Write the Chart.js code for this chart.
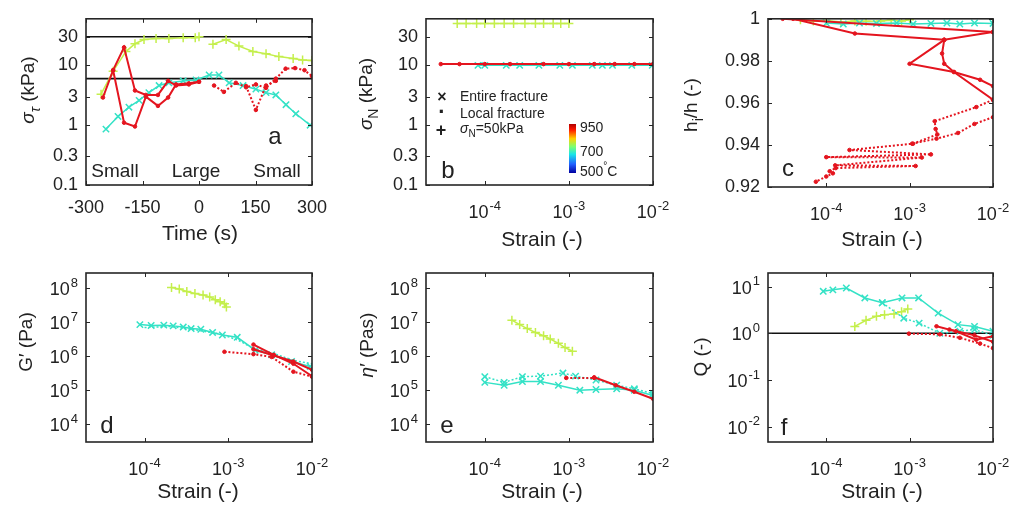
<!DOCTYPE html>
<html>
<head>
<meta charset="utf-8">
<title>Shear fracture rheology</title>
<script src="https://cdn.jsdelivr.net/npm/chart.js@4"></script>
<style>
  body { margin: 0; background: #fff; }
  #fig { position: relative; width: 1018px; height: 513px; }
  canvas { position: absolute; }
</style>
</head>
<body>
<div id="fig">
  <canvas id="pa"></canvas>
  <canvas id="pb"></canvas>
  <canvas id="pc"></canvas>
  <canvas id="pd"></canvas>
  <canvas id="pe"></canvas>
  <canvas id="pf"></canvas>
</div>
<script>
// ---- data ([x, y] pairs) ----
// a: shear stress vs time
const aYellow1 = [[-260,3.3],[-228,8],[-194,17],[-170,23],[-146,27],[-114,28],[-80,28],[-42,29],[-10,29],[0,30]];
const aYellow2 = [[37,22.6],[72,27],[106,21],[143,17],[178,15.6],[212,14],[250,13],[275,12.3],[300,12]];
const aCyan = [[-247,0.86],[-215,1.4],[-186,2.0],[-159,2.6],[-133,3.5],[-106,4.6],[-80,5.1],[-42,5.5],[-8,5.7],[27,6.9],[53,6.9],[80,5.1],[117,4.6],[151,4.0],[178,3.5],[204,3.2],[231,2.2],[257,1.55],[295,1.0]];
const aRed1 = [[-255,2.9],[-228,8.3],[-199,20],[-170,3.8],[-141,3.2],[-109,3.2],[-82,5.5],[-61,4.6],[-27,4.8],[0,5.3]];
const aRed2 = [[-228,8.3],[-199,1.1],[-170,0.95],[-141,3.0],[-109,2.1],[-82,2.9],[-61,4.8],[-27,5.0],[0,5.3]];
const aRedDot1 = [[40,4.6],[66,3.6],[98,5.1],[125,4.3],[151,4.8],[178,4.2],[204,6.0],[230,8.8],[255,9.0],[280,8.3],[300,6.6]];
const aRedDot2 = [[125,4.5],[151,1.8],[178,4.6],[204,5.5]];
const aRefHigh = [[-300,30],[300,30]];
const aRefLow = [[-300,6],[300,6]];

// b: normal stress vs strain
const bYellow = [[4.7e-5,50],[6e-5,50],[8e-5,50],[1e-4,50],[1.3e-4,50],[1.7e-4,50],[2.2e-4,50],[3e-4,50],[4e-4,50],[5e-4,50],[6.5e-4,50],[8e-4,50],[1e-3,50]];
const bCyan = [[8.3e-5,10],[1e-4,10],[1.8e-4,10],[2.6e-4,10],[4.4e-4,10],[7.8e-4,10],[1.1e-3,10],[1.9e-3,10],[2.5e-3,10],[3.3e-3,10],[5.6e-3,10],[9.8e-3,10]];
const bRed = [[3e-5,10.5],[5e-5,10.5],[1e-4,10.5],[2e-4,10.5],[5e-4,10.5],[1e-3,10.5],[2e-3,10.5],[3.5e-3,10.5],[6e-3,10.5],[1e-2,10.5]];

// c: height ratio vs strain
const cYellow = [[4.9e-5,0.9995],[7e-5,0.999],[1e-4,0.9992],[1.5e-4,0.9985],[2.2e-4,0.999],[3e-4,0.9988],[4.5e-4,0.999],[6e-4,0.9993],[8e-4,0.999],[1e-3,0.9995]];
const cCyan = [[1e-4,0.998],[1.6e-4,0.9975],[2.5e-4,0.998],[4e-4,0.9978],[7e-4,0.998],[1.1e-3,0.9975],[1.8e-3,0.9978],[2.8e-3,0.998],[4e-3,0.9975],[6e-3,0.998],[1e-2,0.9978]];
const cRed1 = [[3e-5,1.0],[1e-2,0.9937]];
const cRed2 = [[4e-5,1.0],[2.2e-4,0.993],[2.6e-3,0.990],[1e-2,0.9937]];
const cRed3 = [[2.6e-3,0.990],[1e-3,0.9786],[3.4e-3,0.9747],[7e-3,0.971],[1e-2,0.968]];
const cRed4 = [[2.6e-3,0.990],[2.45e-3,0.9835],[2.6e-3,0.9786],[3.4e-3,0.9747],[1e-2,0.9615]];
const cRedDot1 = [[1e-2,0.9615],[6.3e-3,0.958],[2.0e-3,0.9513],[2.05e-3,0.9476],[2.15e-3,0.945],[1.1e-3,0.9406],[1.9e-4,0.9376],[1.8e-3,0.9355],[1e-4,0.9342],[1.4e-3,0.934],[1.28e-4,0.9303],[1.18e-3,0.93],[1.3e-4,0.929],[1.1e-4,0.9275],[1.2e-4,0.9265],[1e-4,0.925],[7.5e-5,0.9225]];
const cRedDot2 = [[1e-2,0.9532],[6e-3,0.95],[3.8e-3,0.9457],[2.1e-3,0.943],[1.07e-3,0.9406]];

// d: storage modulus G'
const dYellow = [[2.1e-4,1.05e8],[2.6e-4,9.5e7],[3.2e-4,8e7],[4e-4,7e7],[5e-4,6.3e7],[6e-4,5.5e7],[7e-4,4.6e7],[8e-4,4e7],[9e-4,3.5e7],[9.5e-4,2.8e7]];
const dCyan = [[8.8e-5,8.5e6],[1.2e-4,8e6],[1.7e-4,8.2e6],[2.2e-4,7.8e6],[2.9e-4,7.2e6],[3.6e-4,6.5e6],[4.7e-4,6.2e6],[6.5e-4,5e6],[8.5e-4,4.2e6],[1.28e-3,3.6e6],[2.1e-3,1.5e6],[3.3e-3,1.1e6],[5.7e-3,7e5],[9.5e-3,5e5]];
const dCyanDot = [[1e-4,7e6],[2e-4,7.5e6],[4e-4,6e6],[8e-4,4.5e6],[1.3e-3,3e6],[2e-3,1.7e6],[3.5e-3,1.2e6],[6e-3,7.5e5],[1e-2,6e5]];
const dRed1 = [[2e-3,2.2e6],[3.5e-3,1.1e6],[6e-3,6e5],[1e-2,2.6e5]];
const dRed2 = [[2e-3,1.6e6],[3.5e-3,1.05e6],[6e-3,7e5],[1e-2,4e5]];
const dRedDot = [[9e-4,1.35e6],[2e-3,1.15e6],[3.3e-3,9.5e5],[6e-3,3.5e5],[1e-2,2.5e5]];

// e: dynamic viscosity eta'
const eYellow = [[2.1e-4,1.15e7],[2.6e-4,8.5e6],[3.2e-4,6.5e6],[4e-4,5e6],[5e-4,4e6],[6e-4,3.2e6],[7.5e-4,2.4e6],[9e-4,1.8e6],[1.1e-3,1.4e6]];
const eCyan = [[1e-4,1.7e5],[1.7e-4,1.4e5],[2.8e-4,1.8e5],[4.6e-4,1.8e5],[7.5e-4,1.4e5],[1.35e-3,1e5],[2.1e-3,1.05e5],[3.7e-3,1.1e5],[6e-3,1e5],[1e-2,7e4]];
const eCyanDot = [[1e-4,2.5e5],[1.7e-4,1.7e5],[2.8e-4,2.5e5],[4.6e-4,2.6e5],[8.5e-4,3.2e5],[1.2e-3,2.6e5],[2.1e-3,2e5],[3.7e-3,1.4e5],[6e-3,1.1e5],[1e-2,8e4]];
const eRed = [[2e-3,2.4e5],[3.6e-3,1.4e5],[6e-3,9e4],[1e-2,5.6e4]];
const eRedDot = [[9.3e-4,2.3e5],[2e-3,2.3e5]];

// f: quality factor Q
const fCyan = [[9.2e-5,7.9],[1.2e-4,8.5],[1.74e-4,9.3],[2.9e-4,5.7],[4.7e-4,4.5],[8.1e-4,5.7],[1.28e-3,5.7],[2.2e-3,2.7],[3.8e-3,1.53],[6e-3,1.4],[1e-2,1.1]];
const fCyanDot = [[4.7e-4,4.5],[8.5e-4,2.1],[1.3e-3,1.65],[2.3e-3,1.0],[4e-3,1.1],[6e-3,1.2],[1e-2,0.9]];
const fYellow = [[2.2e-4,1.4],[3e-4,1.9],[4e-4,2.3],[5e-4,2.5],[6.5e-4,2.6],[8e-4,2.9],[9.5e-4,3.3]];
const fRed1 = [[2.1e-3,1.41],[3.6e-3,1.1],[6.3e-3,0.73],[1e-2,0.86]];
const fRed2 = [[3e-3,1.2],[6e-3,0.9],[1e-2,0.66]];
const fRedDot = [[9.8e-4,0.98],[2.3e-3,0.95],[4e-3,0.8],[7e-3,0.6],[1e-2,0.48]];
const fRef = [[2e-5,1],[1e-2,1]];

// ticks
const timeTicks = [-300, -150, 0, 150, 300];
const stressTicks = [0.1, 0.3, 1, 3, 10, 30];
const strainTicks = [1e-4, 1e-3, 1e-2];
const heightTicks = [0.92, 0.94, 0.96, 0.98, 1];
const modTicks = [1e4, 1e5, 1e6, 1e7, 1e8];
const qTicks = [1e-2, 1e-1, 1, 10];

// ---- styling ----
const FONT = '"Liberation Sans", Arial, sans-serif';
const RED = '#e4151f', CYAN = '#34e2c6', YEL = '#c4ef4c', BLK = '#111111', INK = '#222222';

function ser(pts, color, o) {
  o = o || {};
  return {
    data: pts.map(p => ({x: p[0], y: p[1]})),
    borderColor: color,
    backgroundColor: color,
    borderWidth: o.w || 1.5,
    borderDash: o.dash || [],
    pointStyle: o.mk || 'circle',
    pointRadius: o.r || 0,
    pointBorderColor: color,
    pointBackgroundColor: color,
    pointBorderWidth: o.pw || 1.5,
    tension: 0,
    fill: false
  };
}
const cross = () => ({mk: 'crossRot', r: 4.5});
const plus = {mk: 'cross', r: 4.5};
const dot = {mk: 'circle', r: 1.8, pw: 1, w: 2};
const dotted = {mk: 'circle', r: 1.8, pw: 1, w: 2, dash: [2, 2]};

// pow: labels like 10^-3 are drawn by the deco plugin instead of the tick callback
function axis(type, min, max, ticks, fmt, pad, pow) {
  return {
    type: type, min: min, max: max, pow: !!pow,
    afterBuildTicks: s => { s.ticks = ticks.map(v => ({value: v})); },
    grid: {display: false, drawTicks: false},
    border: {display: false},
    ticks: {display: !pow, callback: fmt, font: {family: FONT, size: 18}, color: INK, padding: pad, autoSkip: false, maxRotation: 0}
  };
}

// rich text with sub/superscripts
function rich(ctx, it, ox, oy) {
  const parts = typeof it.t === 'string' ? [{t: it.t}] : it.t;
  const size = it.size || 18;
  const fontOf = p => (p.i ? 'italic ' : '') + (p.b ? 'bold ' : '') + ((p.sub || p.sup) ? Math.round(size * 0.72) : size) + 'px ' + FONT;
  let w = 0;
  parts.forEach(p => { ctx.font = fontOf(p); p.w = ctx.measureText(p.t).width; w += p.w; });
  ctx.save();
  ctx.translate(it.x - ox, it.y - oy);
  if (it.rot) ctx.rotate(-Math.PI / 2);
  ctx.fillStyle = it.c || INK;
  ctx.textBaseline = 'middle';
  ctx.textAlign = 'left';
  let cx = it.left ? 0 : -w / 2;
  parts.forEach(p => {
    ctx.font = fontOf(p);
    const dy = p.sub ? size * 0.38 : (p.sup ? -size * 0.38 : 0);
    ctx.fillText(p.t, cx, dy);
    cx += p.w;
  });
  ctx.restore();
}

// "10" with a raised exponent
function powLabel(ctx, v, x, y, right) {
  const e = String(Math.round(Math.log10(v)));
  ctx.font = '18px ' + FONT;
  const w1 = ctx.measureText('10').width;
  ctx.font = '13px ' + FONT;
  const w2 = ctx.measureText(e).width + 1;
  const x0 = right ? x - w1 - w2 : x - (w1 + w2) / 2;
  ctx.fillStyle = INK;
  ctx.textBaseline = 'middle';
  ctx.textAlign = 'left';
  ctx.font = '18px ' + FONT;
  ctx.fillText('10', x0, y);
  ctx.font = '13px ' + FONT;
  ctx.fillText(e, x0 + w1 + 1, y - 7);
}

const deco = {
  id: 'deco',
  afterDatasetsDraw(chart, args, o) {
    const {ctx, chartArea: A, scales: {x, y}} = chart;
    ctx.save();
    ctx.strokeStyle = '#262626';
    ctx.lineWidth = 1;
    ctx.beginPath();
    x.ticks.forEach(t => {
      const p = Math.round(x.getPixelForValue(t.value)) + 0.5;
      ctx.moveTo(p, A.bottom); ctx.lineTo(p, A.bottom - 4);
      ctx.moveTo(p, A.top); ctx.lineTo(p, A.top + 4);
    });
    y.ticks.forEach(t => {
      const p = Math.round(y.getPixelForValue(t.value)) + 0.5;
      ctx.moveTo(A.left, p); ctx.lineTo(A.left + 4, p);
      ctx.moveTo(A.right, p); ctx.lineTo(A.right - 4, p);
    });
    ctx.stroke();
    ctx.lineWidth = 1.6;
    ctx.strokeRect(A.left, A.top, A.right - A.left, A.bottom - A.top);
    ctx.restore();
  },
  afterDraw(chart, args, o) {
    const {ctx, chartArea: A, scales: {x, y}} = chart;
    ctx.save();
    if (x.options.pow) x.ticks.forEach(t => powLabel(ctx, t.value, x.getPixelForValue(t.value), A.bottom + 28.5, false));
    if (y.options.pow) y.ticks.forEach(t => powLabel(ctx, t.value, A.left - 8, y.getPixelForValue(t.value) + 2, true));
    if (o.cbar) {
      const b = o.cbar;
      const g = ctx.createLinearGradient(0, b.y - o.oy, 0, b.y + b.h - o.oy);
      g.addColorStop(0, '#b00000'); g.addColorStop(0.12, '#ff1a00'); g.addColorStop(0.3, '#ffd200');
      g.addColorStop(0.46, '#7dff70'); g.addColorStop(0.62, '#18e4e8'); g.addColorStop(0.82, '#2060ff'); g.addColorStop(1, '#0000a0');
      ctx.fillStyle = g;
      ctx.fillRect(b.x - o.ox, b.y - o.oy, b.w, b.h);
    }
    ctx.restore();
    (o.items || []).forEach(it => rich(ctx, it, o.ox, o.oy));
  }
};

function panel(id, cell, area, xs, ys, datasets, items, extra) {
  const [cl, ct, cw, ch] = cell;
  const cv = document.getElementById(id);
  cv.width = cw; cv.height = ch;
  cv.style.left = cl + 'px'; cv.style.top = ct + 'px';
  xs.afterFit = s => { s.height = ct + ch - area[3]; };
  ys.afterFit = s => { s.width = area[0] - cl; };
  return new Chart(cv, {
    type: 'line',
    data: {datasets: datasets},
    options: {
      responsive: false, animation: false, devicePixelRatio: 1,
      layout: {padding: {left: 0, bottom: 0, top: area[1] - ct, right: cl + cw - area[2]}},
      scales: {x: xs, y: ys},
      plugins: {legend: {display: false}, tooltip: {enabled: false},
        deco: Object.assign({ox: cl, oy: ct, items: items}, extra || {})}
    },
    plugins: [deco]
  });
}

const strainAxis = () => axis('logarithmic', 2e-5, 1e-2, strainTicks, v => String(v), 10, true);
const strainTitle = (x, y) => ({t: 'Strain (-)', x: x, y: y, size: 21});

// a
panel('pa', [0, 0, 340, 250], [86, 17, 312, 185],
  axis('linear', -300, 300, timeTicks, v => String(v), 12),
  axis('logarithmic', 0.1, 60, stressTicks, v => String(v), 8),
  [ser(aRed1, RED, dot), ser(aRed2, RED, dot), ser(aRedDot1, RED, dotted), ser(aRedDot2, RED, dotted),
   ser(aCyan, CYAN, cross()), ser(aYellow1, YEL, plus), ser(aYellow2, YEL, plus),
   ser(aRefHigh, BLK, {w: 1.6}), ser(aRefLow, BLK, {w: 1.6})],
  [{t: [{t: 'σ', i: 1}, {t: 'τ', i: 1, sub: 1}, {t: ' (kPa)'}], x: 29, y: 90, size: 19, rot: 1},
   {t: 'Time (s)', x: 200, y: 234, size: 21},
   {t: 'a', x: 275, y: 137, size: 24},
   {t: 'Small', x: 115, y: 172, size: 19},
   {t: 'Large', x: 196, y: 172, size: 19},
   {t: 'Small', x: 277, y: 172, size: 19}]);

// b
panel('pb', [340, 0, 340, 250], [426, 17, 653, 185],
  strainAxis(),
  axis('logarithmic', 0.1, 60, stressTicks, v => String(v), 8),
  [ser(bRed, RED, dot), ser(bCyan, CYAN, cross()), ser(bYellow, YEL, plus)],
  [{t: [{t: 'σ', i: 1}, {t: 'N', sub: 1}, {t: ' (kPa)'}], x: 367, y: 94, size: 19, rot: 1},
   strainTitle(542, 240),
   {t: 'b', x: 448, y: 171, size: 24},
   {t: [{t: '×', b: 1}], x: 442, y: 98, size: 16},
   {t: 'Entire fracture', x: 460, y: 97, size: 14, left: 1},
   {t: [{t: '·', b: 1}], x: 442, y: 113, size: 22},
   {t: 'Local fracture', x: 460, y: 114, size: 14, left: 1},
   {t: [{t: '+', b: 1}], x: 441, y: 131, size: 18},
   {t: [{t: 'σ', i: 1}, {t: 'N', sub: 1}, {t: '=50kPa'}], x: 460, y: 129, size: 14, left: 1},
   {t: '950', x: 580, y: 128, size: 14, left: 1},
   {t: '700', x: 580, y: 152, size: 14, left: 1},
   {t: [{t: '500'}, {t: '°', sup: 1}, {t: 'C'}], x: 580, y: 172, size: 14, left: 1}],
  {cbar: {x: 569, y: 124, w: 7, h: 49}});

// c
panel('pc', [680, 0, 338, 250], [768, 16, 993, 187],
  strainAxis(),
  axis('linear', 0.92, 1, heightTicks, v => (Math.abs(v - 1) < 1e-9 ? '1' : v.toFixed(2)), 8),
  [ser(cRed1, RED, dot), ser(cRed2, RED, dot), ser(cRed3, RED, dot), ser(cRed4, RED, dot),
   ser(cRedDot1, RED, dotted), ser(cRedDot2, RED, dotted),
   ser(cCyan, CYAN, cross()), ser(cYellow, YEL, plus)],
  [{t: [{t: 'h'}, {t: 'i', sub: 1}, {t: '/h (-)'}], x: 692, y: 105, size: 19, rot: 1},
   strainTitle(882, 240),
   {t: 'c', x: 788, y: 169, size: 24}]);

// d
panel('pd', [0, 250, 340, 263], [86, 273, 312, 442],
  strainAxis(),
  axis('logarithmic', 3e3, 2.8e8, modTicks, v => String(v), 8, true),
  [ser(dRed1, RED, dot), ser(dRed2, RED, dot), ser(dRedDot, RED, dotted),
   ser(dCyan, CYAN, cross()), ser(dCyanDot, CYAN, {w: 1.5, dash: [2, 2]}), ser(dYellow, YEL, plus)],
  [{t: 'G′ (Pa)', x: 27, y: 342, size: 19, rot: 1},
   strainTitle(198, 492),
   {t: 'd', x: 107, y: 426, size: 24}]);

// e
panel('pe', [340, 250, 340, 263], [426, 273, 653, 442],
  strainAxis(),
  axis('logarithmic', 3e3, 2.8e8, modTicks, v => String(v), 8, true),
  [ser(eRed, RED, dot), ser(eRedDot, RED, dotted),
   ser(eCyan, CYAN, cross()), ser(eCyanDot, CYAN, Object.assign(cross(), {dash: [2, 2]})), ser(eYellow, YEL, plus)],
  [{t: [{t: 'η', i: 1}, {t: '′'}, {t: ' (Pas)'}], x: 368, y: 345, size: 19, rot: 1},
   strainTitle(542, 492),
   {t: 'e', x: 447, y: 426, size: 24}]);

// f
panel('pf', [680, 250, 338, 263], [768, 273, 993, 442],
  strainAxis(),
  axis('logarithmic', 0.0047, 19.5, qTicks, v => String(v), 8, true),
  [ser(fRed1, RED, dot), ser(fRed2, RED, dot), ser(fRedDot, RED, dotted),
   ser(fCyan, CYAN, cross()), ser(fCyanDot, CYAN, Object.assign(cross(), {dash: [2, 2]})), ser(fYellow, YEL, plus),
   ser(fRef, BLK, {w: 1.6})],
  [{t: 'Q (-)', x: 702, y: 357, size: 19, rot: 1},
   strainTitle(882, 492),
   {t: 'f', x: 784, y: 428, size: 24}]);
</script>
</body>
</html>
